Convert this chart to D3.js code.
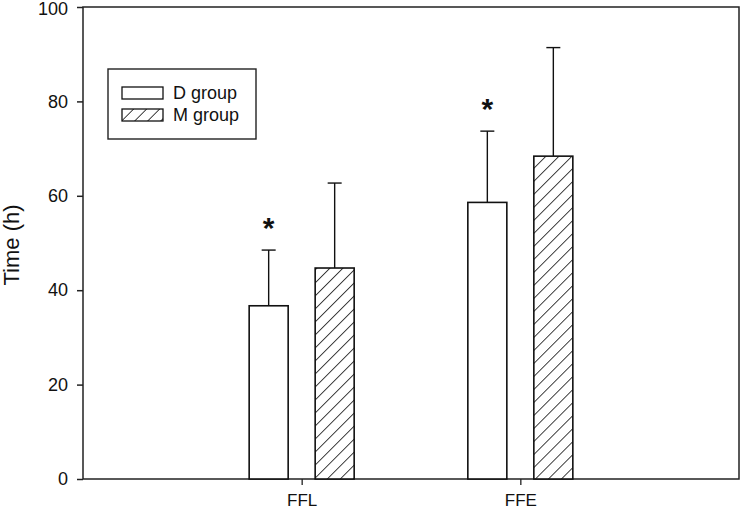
<!DOCTYPE html>
<html>
<head>
<meta charset="utf-8">
<script src="https://cdn.jsdelivr.net/npm/d3@7"></script>
<style>
  body { margin: 0; background: #fff; }
  svg { display: block; font-family: "Liberation Sans", Arial, sans-serif; }
</style>
</head>
<body>
<div id="chart"></div>
<script>
// Data
const categories = ["FFL", "FFE"];
const groups = ["D group", "M group"];
const dMeans = [36.7, 58.6];
const dErr = [11.8, 15.1];
const mMeans = [44.7, 68.4];
const mErr = [18.0, 23.0];
const significant = [true, true]; // asterisk over D group
const yTicks = [0, 20, 40, 60, 80, 100];

const W = 740, H = 511;
const margin = { top: 7, right: 1, bottom: 32, left: 83 };
const iW = W - margin.left - margin.right;
const iH = H - margin.top - margin.bottom;

const svg = d3.select("#chart").append("svg").attr("width", W).attr("height", H);

const defs = svg.append("defs");
const pat = defs.append("pattern")
  .attr("id", "hatch")
  .attr("patternUnits", "userSpaceOnUse")
  .attr("width", 9.2).attr("height", 9.2)
  .attr("patternTransform", "rotate(45)");
pat.append("rect").attr("width", 9.2).attr("height", 9.2).attr("fill", "#fff");
pat.append("line").attr("x1", 0).attr("y1", 0).attr("x2", 0).attr("y2", 9.2)
  .attr("stroke", "#111").attr("stroke-width", 1.6);

const g = svg.append("g").attr("transform", `translate(${margin.left},${margin.top})`);

const x = d3.scaleLinear().domain([0, 3]).range([0, iW]);
const y = d3.scaleLinear().domain([0, 100]).range([iH, 0]);

const barW = 39, offset = 33;

// Frame
g.append("rect").attr("width", iW).attr("height", iH)
  .attr("fill", "none").attr("stroke", "#222").attr("stroke-width", 1.5);

// Axes
g.append("g")
  .call(d3.axisLeft(y).tickValues(yTicks).tickSize(6).tickPadding(9))
  .call(a => {
    a.select(".domain").remove();
    a.selectAll("line").attr("stroke", "#222").attr("stroke-width", 1.5);
    a.selectAll("text").attr("fill", "#111").style("font-size", "18px");
    // keep the top label inside the page
    a.selectAll("text").filter(d => d === 100).attr("dy", "0.42em");
  });

g.append("g")
  .attr("transform", `translate(0,${iH})`)
  .call(d3.axisBottom(x).tickValues([1, 2]).tickFormat((d, i) => categories[i]).tickSize(6).tickPadding(9))
  .call(a => {
    a.select(".domain").remove();
    a.selectAll("line").attr("stroke", "#222").attr("stroke-width", 1.3);
    a.selectAll("text").attr("fill", "#111").style("font-size", "17px");
  });

// Y label
g.append("text")
  .attr("transform", "rotate(-90)")
  .attr("x", -iH / 2 - 2).attr("y", -64)
  .attr("text-anchor", "middle")
  .attr("fill", "#111").style("font-size", "22px")
  .text("Time (h)");

// Bars with error bars
const series = [
  { means: dMeans, err: dErr, dx: -offset, fill: "#fff" },
  { means: mMeans, err: mErr, dx: offset, fill: "url(#hatch)" }
];

series.forEach(s => {
  categories.forEach((c, i) => {
    const cx = x(i + 1) + s.dx;
    const top = y(s.means[i] + s.err[i]);
    g.append("line")
      .attr("x1", cx).attr("x2", cx)
      .attr("y1", y(s.means[i])).attr("y2", top)
      .attr("stroke", "#111").attr("stroke-width", 1.4);
    g.append("line")
      .attr("x1", cx - 7).attr("x2", cx + 7)
      .attr("y1", top).attr("y2", top)
      .attr("stroke", "#111").attr("stroke-width", 1.4);
    g.append("rect")
      .attr("x", cx - barW / 2).attr("y", y(s.means[i]))
      .attr("width", barW).attr("height", iH - y(s.means[i]))
      .attr("fill", s.fill).attr("stroke", "#111").attr("stroke-width", 1.6);
  });
});

// Asterisks
categories.forEach((c, i) => {
  if (!significant[i]) return;
  const cx = x(i + 1) - offset;
  g.append("text")
    .attr("x", cx).attr("y", y(dMeans[i] + dErr[i]) - 12)
    .attr("text-anchor", "middle")
    .attr("fill", "#111").style("font-size", "30px").style("font-weight", "bold")
    .text("*");
});

// Legend
const lg = svg.append("g").attr("transform", "translate(108,69)");
lg.append("rect").attr("width", 148).attr("height", 70)
  .attr("fill", "#fff").attr("stroke", "#222").attr("stroke-width", 1.4);
groups.forEach((name, i) => {
  const yy = 18 + i * 22;
  lg.append("rect").attr("x", 14).attr("y", yy).attr("width", 41).attr("height", 12)
    .attr("fill", i === 0 ? "#fff" : "url(#hatch)")
    .attr("stroke", "#111").attr("stroke-width", 1.3);
  lg.append("text").attr("x", 65).attr("y", yy + 12)
    .attr("fill", "#111").style("font-size", "18px").text(name);
});
</script>
</body>
</html>
